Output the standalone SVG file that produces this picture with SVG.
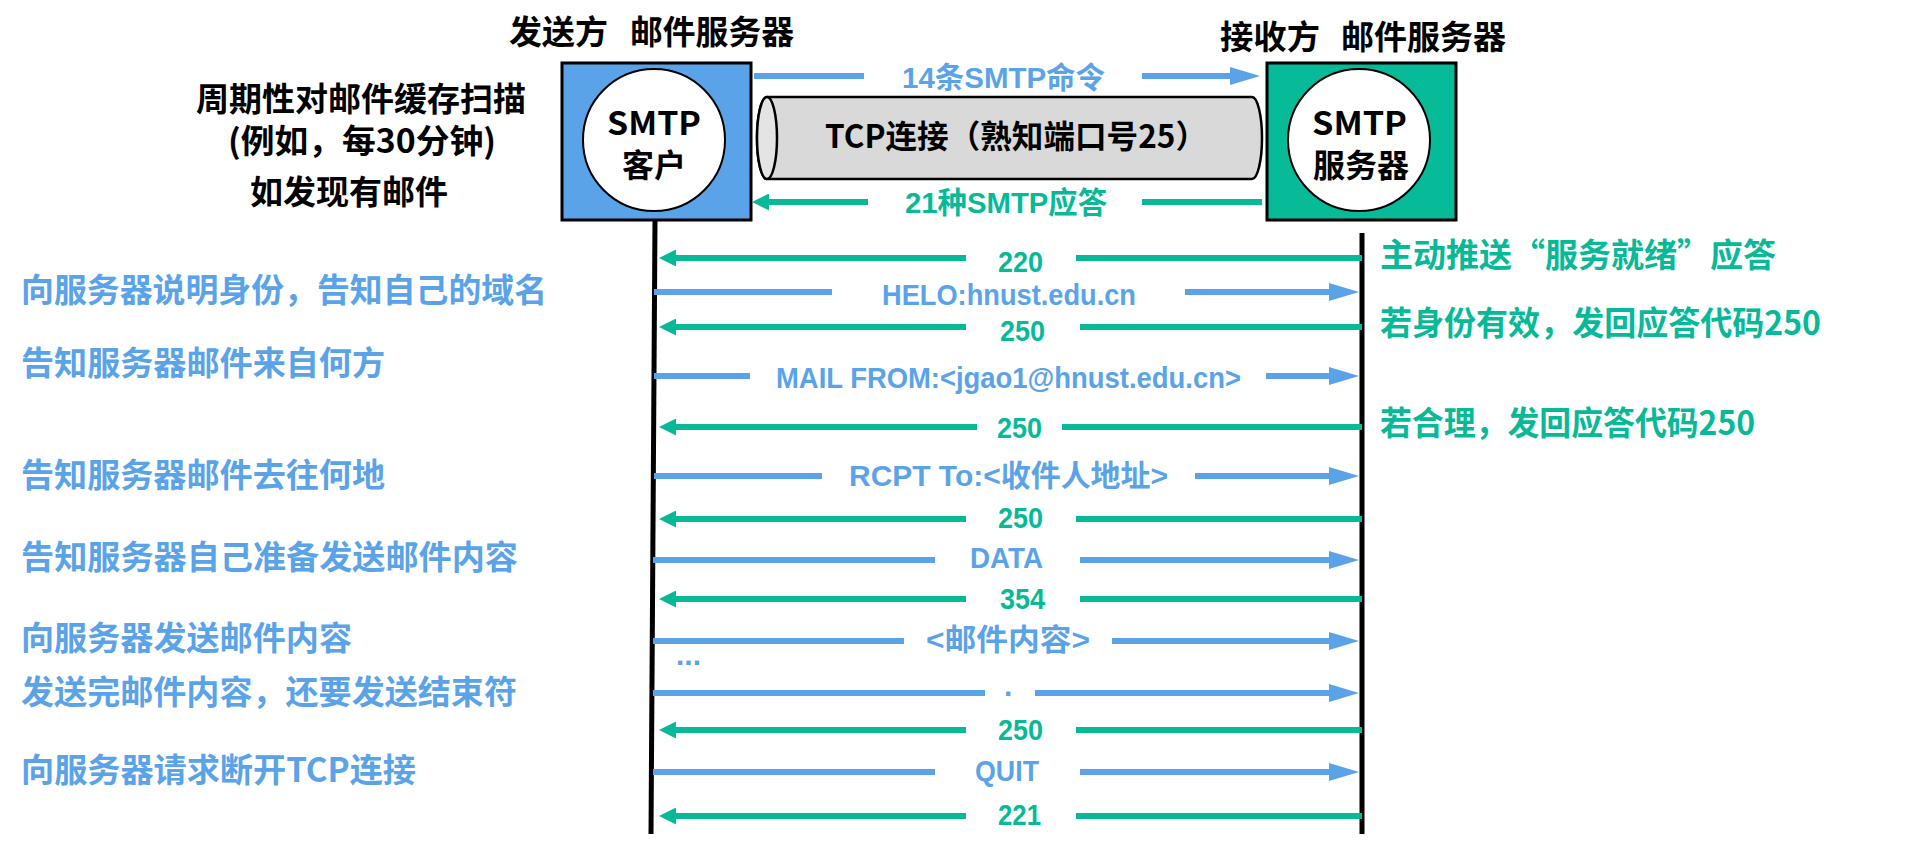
<svg xmlns="http://www.w3.org/2000/svg" width="1926" height="853" viewBox="0 0 1926 853">
<style>
.bg{fill:#ffffff}
.cjk{font-family:"Noto Sans CJK SC","Liberation Sans",sans-serif;font-weight:bold}
.lab{font-family:"Liberation Sans","Noto Sans CJK SC",sans-serif;font-weight:bold;font-size:30px}
.blk{fill:#000000}
.bt{fill:#5BA3E8}
.gt{fill:#07B997}
.bl{stroke:#5BA3E8;stroke-width:6;fill:none}
.gl{stroke:#07B997;stroke-width:6;fill:none}
.life{stroke:#000000;stroke-width:5;fill:none}
</style>
<defs>
<marker id="ab" markerUnits="userSpaceOnUse" markerWidth="30" markerHeight="18" viewBox="0 0 30 18" refX="16" refY="9" orient="auto"><path d="M0,0 L30,9 L0,18 z" fill="#5BA3E8"/></marker>
<marker id="ag" markerUnits="userSpaceOnUse" markerWidth="17" markerHeight="17" viewBox="0 0 17 17" refX="8" refY="8.5" orient="auto"><path d="M0,0 L17,8.5 L0,17 z" fill="#07B997"/></marker>
</defs>
<rect class="bg" x="0" y="0" width="1926" height="853"/>

<g id="titles">
<text class="cjk blk" x="509" y="44" font-size="33" textLength="99" lengthAdjust="spacingAndGlyphs">发送方</text>
<text class="cjk blk" x="630" y="44" font-size="33" textLength="164" lengthAdjust="spacingAndGlyphs">邮件服务器</text>
<text class="cjk blk" x="1220" y="49" font-size="33" textLength="100" lengthAdjust="spacingAndGlyphs">接收方</text>
<text class="cjk blk" x="1341" y="49" font-size="33" textLength="165" lengthAdjust="spacingAndGlyphs">邮件服务器</text>
</g>

<g id="note-left">
<text class="cjk blk" x="196" y="111" font-size="33" textLength="330" lengthAdjust="spacingAndGlyphs">周期性对邮件缓存扫描</text>
<text class="cjk blk" x="228" y="153" font-size="33" textLength="268" lengthAdjust="spacingAndGlyphs">(例如，每30分钟)</text>
<text class="cjk blk" x="250" y="204" font-size="33" textLength="198" lengthAdjust="spacingAndGlyphs">如发现有邮件</text>
</g>

<g id="smtp-client">
<rect x="562" y="63" width="189" height="157" fill="#5BA3E8" stroke="#000" stroke-width="3"/>
<ellipse cx="654" cy="140" rx="71" ry="71" fill="#fff" stroke="#000" stroke-width="2"/>
<text class="cjk blk" x="607" y="135" font-size="32" textLength="94" lengthAdjust="spacingAndGlyphs">SMTP</text>
<text class="cjk blk" x="654" y="177" font-size="32" text-anchor="middle">客户</text>
</g>

<g id="smtp-server">
<rect x="1267" y="63" width="189" height="157" fill="#07BB98" stroke="#000" stroke-width="3"/>
<ellipse cx="1359" cy="140" rx="71" ry="71" fill="#fff" stroke="#000" stroke-width="2"/>
<text class="cjk blk" x="1312" y="135" font-size="32" textLength="95" lengthAdjust="spacingAndGlyphs">SMTP</text>
<text class="cjk blk" x="1361" y="177" font-size="32" text-anchor="middle">服务器</text>
</g>

<g id="tcp-connection">
<path d="M767,97 H1252 A10,41 0 0 1 1252,179 H767 A10,41 0 0 1 767,97 Z" fill="#D9D9D9" stroke="#000" stroke-width="2.5"/>
<ellipse cx="767" cy="138" rx="10" ry="41" fill="#E4E4E4" stroke="#000" stroke-width="2.5"/>
<text class="cjk blk" x="825" y="148" font-size="32" textLength="382" lengthAdjust="spacingAndGlyphs">TCP连接（熟知端口号25）</text>
</g>

<g id="lifelines">
<line class="life" x1="655" y1="220" x2="651" y2="834"/>
<line class="life" x1="1362" y1="233" x2="1362" y2="834"/>
</g>

<g id="connectors">
<line class="bl" x1="754" y1="76" x2="864" y2="76"/>
<line class="bl" x1="1142" y1="76" x2="1246" y2="76" marker-end="url(#ab)"/>
<line class="gl" x1="1262" y1="202" x2="1142" y2="202"/>
<line class="gl" x1="868" y1="202" x2="761" y2="202" marker-end="url(#ag)"/>

<line class="gl" x1="1362" y1="258" x2="1076" y2="258"/>
<line class="gl" x1="966" y1="258" x2="668" y2="258" marker-end="url(#ag)"/>
<line class="bl" x1="654" y1="292" x2="832" y2="292"/>
<line class="bl" x1="1185" y1="292" x2="1345" y2="292" marker-end="url(#ab)"/>
<line class="gl" x1="1362" y1="327" x2="1080" y2="327"/>
<line class="gl" x1="966" y1="327" x2="668" y2="327" marker-end="url(#ag)"/>
<line class="bl" x1="654" y1="376" x2="750" y2="376"/>
<line class="bl" x1="1266" y1="376" x2="1345" y2="376" marker-end="url(#ab)"/>
<line class="gl" x1="1362" y1="427" x2="1062" y2="427"/>
<line class="gl" x1="977" y1="427" x2="668" y2="427" marker-end="url(#ag)"/>
<line class="bl" x1="654" y1="476" x2="822" y2="476"/>
<line class="bl" x1="1195" y1="476" x2="1345" y2="476" marker-end="url(#ab)"/>
<line class="gl" x1="1362" y1="519" x2="1076" y2="519"/>
<line class="gl" x1="966" y1="519" x2="668" y2="519" marker-end="url(#ag)"/>
<line class="bl" x1="653" y1="560" x2="935" y2="560"/>
<line class="bl" x1="1080" y1="560" x2="1345" y2="560" marker-end="url(#ab)"/>
<line class="gl" x1="1362" y1="599" x2="1080" y2="599"/>
<line class="gl" x1="966" y1="599" x2="668" y2="599" marker-end="url(#ag)"/>
<line class="bl" x1="653" y1="641" x2="904" y2="641"/>
<line class="bl" x1="1112" y1="641" x2="1345" y2="641" marker-end="url(#ab)"/>
<line class="bl" x1="653" y1="693" x2="985" y2="693"/>
<line class="bl" x1="1035" y1="693" x2="1345" y2="693" marker-end="url(#ab)"/>
<line class="gl" x1="1362" y1="730" x2="1076" y2="730"/>
<line class="gl" x1="966" y1="730" x2="668" y2="730" marker-end="url(#ag)"/>
<line class="bl" x1="653" y1="772" x2="935" y2="772"/>
<line class="bl" x1="1080" y1="772" x2="1345" y2="772" marker-end="url(#ab)"/>
<line class="gl" x1="1362" y1="816" x2="1076" y2="816"/>
<line class="gl" x1="966" y1="816" x2="668" y2="816" marker-end="url(#ag)"/>
</g>

<g id="connector-labels">
<text class="lab bt" x="902" y="87.5" font-size="29" textLength="203" lengthAdjust="spacingAndGlyphs">14条SMTP命令</text>
<text class="lab gt" x="905" y="213" font-size="29" textLength="202" lengthAdjust="spacingAndGlyphs">21种SMTP应答</text>
<text class="lab gt" x="998" y="271.5" textLength="45" lengthAdjust="spacingAndGlyphs">220</text>
<text class="lab bt" x="882" y="305" textLength="254" lengthAdjust="spacingAndGlyphs">HELO:hnust.edu.cn</text>
<text class="lab gt" x="1000" y="341" textLength="45" lengthAdjust="spacingAndGlyphs">250</text>
<text class="lab bt" x="776" y="388" textLength="465" lengthAdjust="spacingAndGlyphs">MAIL FROM:&lt;jgao1@hnust.edu.cn&gt;</text>
<text class="lab gt" x="997" y="438" textLength="45" lengthAdjust="spacingAndGlyphs">250</text>
<text class="lab bt" x="849" y="486" textLength="319" lengthAdjust="spacingAndGlyphs">RCPT To:&lt;收件人地址&gt;</text>
<text class="lab gt" x="998" y="528" textLength="45" lengthAdjust="spacingAndGlyphs">250</text>
<text class="lab bt" x="970" y="568" textLength="73" lengthAdjust="spacingAndGlyphs">DATA</text>
<text class="lab gt" x="1000" y="609" textLength="45" lengthAdjust="spacingAndGlyphs">354</text>
<text class="lab bt" x="926" y="650" textLength="164" lengthAdjust="spacingAndGlyphs">&lt;邮件内容&gt;</text>
<text class="lab bt" x="676" y="665" textLength="25" lengthAdjust="spacingAndGlyphs">...</text>
<text class="lab bt" x="1004" y="696">.</text>
<text class="lab gt" x="998" y="740" textLength="45" lengthAdjust="spacingAndGlyphs">250</text>
<text class="lab bt" x="975" y="781" textLength="64" lengthAdjust="spacingAndGlyphs">QUIT</text>
<text class="lab gt" x="998" y="825" textLength="43" lengthAdjust="spacingAndGlyphs">221</text>
</g>

<g id="client-notes">
<text class="cjk bt" x="21" y="302" font-size="33" textLength="526" lengthAdjust="spacingAndGlyphs">向服务器说明身份，告知自己的域名</text>
<text class="cjk bt" x="21" y="375" font-size="33" textLength="364" lengthAdjust="spacingAndGlyphs">告知服务器邮件来自何方</text>
<text class="cjk bt" x="21" y="487" font-size="33" textLength="364" lengthAdjust="spacingAndGlyphs">告知服务器邮件去往何地</text>
<text class="cjk bt" x="21" y="569" font-size="33" textLength="497" lengthAdjust="spacingAndGlyphs">告知服务器自己准备发送邮件内容</text>
<text class="cjk bt" x="21" y="650" font-size="33" textLength="331" lengthAdjust="spacingAndGlyphs">向服务器发送邮件内容</text>
<text class="cjk bt" x="21" y="704" font-size="33" textLength="496" lengthAdjust="spacingAndGlyphs">发送完邮件内容，还要发送结束符</text>
<text class="cjk bt" x="21" y="782" font-size="33" textLength="395" lengthAdjust="spacingAndGlyphs">向服务器请求断开TCP连接</text>
</g>

<g id="server-notes">
<text class="cjk gt" x="1380" y="267" font-size="33" textLength="396" lengthAdjust="spacingAndGlyphs">主动推送“服务就绪”应答</text>
<text class="cjk gt" x="1380" y="335" font-size="33" textLength="441" lengthAdjust="spacingAndGlyphs">若身份有效，发回应答代码250</text>
<text class="cjk gt" x="1380" y="435" font-size="33" textLength="375" lengthAdjust="spacingAndGlyphs">若合理，发回应答代码250</text>
</g>
</svg>
